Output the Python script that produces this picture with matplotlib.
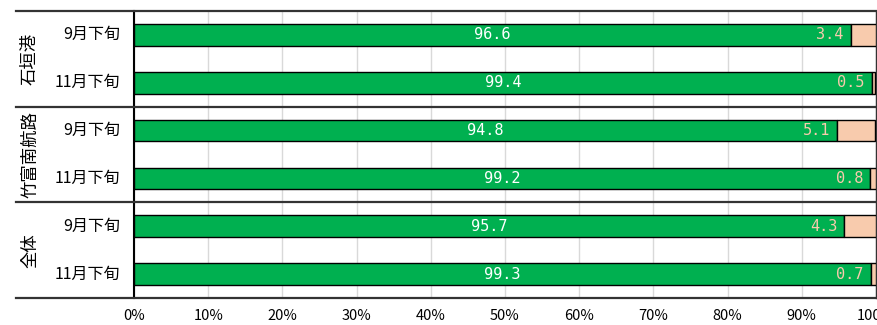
import matplotlib
matplotlib.use("Agg")
import matplotlib.pyplot as plt
from matplotlib.lines import Line2D

plt.rcParams['font.family'] = ['Noto Sans CJK JP', 'DejaVu Sans']

groups = ["石垣港", "竹富南航路", "全体"]
periods = ["9月下旬", "11月下旬"]
green_vals = [96.6, 99.4, 94.8, 99.2, 95.7, 99.3]
orange_vals = [3.4, 0.5, 5.1, 0.8, 4.3, 0.7]
xticks = [0, 10, 20, 30, 40, 50, 60, 70, 80, 90, 100]
xtick_labels = [f"{t}%" for t in xticks]

GREEN = "#00B050"
PEACH = "#F8CBAD"

fig = plt.figure(figsize=(8.78, 3.25), dpi=100)
W, H = 878, 325
x0, x1, y0, y1 = 134, 876, 11, 298
ax = fig.add_axes([x0 / W, 1 - y1 / H, (x1 - x0) / W, (y1 - y0) / H])

n = len(green_vals)
ypos = [i + 0.5 for i in range(n)]
bh = 0.45
ax.barh(ypos, green_vals, height=bh, color=GREEN, edgecolor="black", linewidth=1.0, zorder=3)
ax.barh(ypos, orange_vals, left=green_vals, height=bh, color=PEACH, edgecolor="black", linewidth=1.0, zorder=3)

for y, g, o in zip(ypos, green_vals, orange_vals):
    ax.text(g / 2, y, f"{g:.1f}", ha="center", va="center", color="white",
            fontsize=11, family="DejaVu Sans Mono", zorder=4)
    ax.annotate(f"{o:.1f}", xy=(g, y), xytext=(-5, 0), textcoords="offset points",
                ha="right", va="center", color=PEACH, fontsize=11,
                family="DejaVu Sans Mono", zorder=4)

ax.set_xlim(0, 100)
ax.set_ylim(n, 0)
ax.set_xticks(xticks)
ax.set_xticklabels(xtick_labels, fontsize=10.5)
ax.tick_params(axis="x", length=0, pad=8)
ax.set_yticks([])
ax.grid(axis="x", color="#d9d9d9", linewidth=1.0, zorder=0)
ax.set_axisbelow(True)

for s in ["top", "bottom"]:
    ax.spines[s].set_visible(False)
ax.spines["left"].set_linewidth(1.5)
ax.spines["left"].set_color("black")
ax.spines["right"].set_linewidth(1.0)
ax.spines["right"].set_color("#333333")

# horizontal table lines extending into label area
ext = (16 - x0) / (x1 - x0)
for yb in [0, 2, 4, 6]:
    frac = 1 - yb / n
    ax.add_line(Line2D([ext, 1], [frac, frac], transform=ax.transAxes,
                       color="#333333", linewidth=1.6, clip_on=False, zorder=5))

# period labels
for y, i in zip(ypos, range(n)):
    ax.text((120 - x0) / (x1 - x0), 1 - y / n, periods[i % 2], transform=ax.transAxes,
            ha="right", va="center", fontsize=11.5)

# group labels
for gi, g in enumerate(groups):
    yc = 1 - (gi * 2 + 1) / n
    ax.text((30 - x0) / (x1 - x0), yc, g, transform=ax.transAxes, rotation=90,
            ha="center", va="center", fontsize=12.5)

fig.savefig("out.png", dpi=100)
